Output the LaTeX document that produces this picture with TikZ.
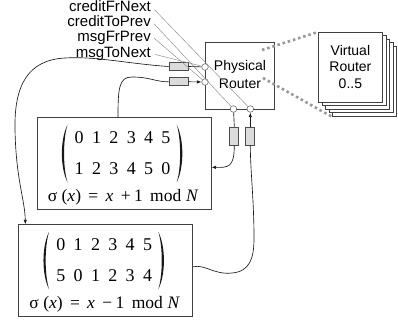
\documentclass[tikz,border=0pt]{standalone}
\usepackage{fontspec}
\setmainfont{Liberation Serif}
\newfontfamily\labelfont{Liberation Sans}
\usetikzlibrary{arrows.meta,calc}

% wide inter-word glue used in the formulas
\newcommand\fsp{\hskip 0.42em\relax}

% one box holding a permutation in two-row notation and its formula
\newcommand\permrows[4]{%
  \begin{scope}[shift={(#1.north west)}]
    \foreach \d [count=\i from 0] in {#2}
      \node[digit] (#1-a\i) at (42.5+17.35*\i,20) {\d};
    \foreach \d [count=\i from 0] in {#3}
      \node[digit] (#1-b\i) at (42.5+17.35*\i,51.7) {\d};
    \fill[black!90] (30.8,7.5) .. controls (23.3,22) and (23.3,50.5) .. (30.8,65)
                               .. controls (26.2,50.5) and (26.2,22) .. (30.8,7.5) -- cycle;
    \fill[black!90] (140,7.5) .. controls (147.5,22) and (147.5,50.5) .. (140,65)
                              .. controls (144.6,50.5) and (144.6,22) .. (140,7.5) -- cycle;
    \node[formula] (#1-f) at (86.5,84.5) {#4};
  \end{scope}}

\begin{document}
\begin{tikzpicture}[x=1pt,y=-1pt,
  frame/.style={draw=black!75, line width=0.8pt, inner sep=0pt},
  permbox/.style={frame, anchor=north west, minimum width=174pt, minimum height=92pt},
  hbuf/.style={draw=black!70, fill=black!14, line width=0.7pt, inner sep=0pt,
               minimum width=19pt, minimum height=8pt},
  vbuf/.style={hbuf, minimum width=9pt, minimum height=18pt},
  port/.style={circle, draw=black!65, fill=white, line width=0.5pt,
               minimum size=6.6pt, inner sep=0pt},
  wire/.style={draw=black!90, line width=0.65pt},
  arr/.style={-{Latex[length=4.5pt,width=3.4pt]}},
  tap/.style={draw=black!45, line width=0.45pt},
  zoomline/.style={draw=black!40, line width=2.6pt, dash pattern=on 2.6pt off 2.8pt},
  sig/.style={font=\labelfont\fontsize{15}{17}\selectfont, inner sep=0pt, anchor=base east},
  rtext/.style={font=\labelfont\fontsize{14}{16.7}\selectfont, inner sep=0pt},
  digit/.style={font=\fontsize{18}{20}\selectfont, inner sep=0pt},
  formula/.style={font=\fontsize{17.5}{20}\selectfont, inner sep=0pt, anchor=base},
  vr/.style={frame, fill=white, anchor=north west, minimum width=64pt, minimum height=70pt}]
\useasboundingbox (0,0) rectangle (398,323);

% signal names
\node[sig] (l1) at (151,11.7) {creditFrNext};
\node[sig] (l2) at (151,26.7) {creditToPrev};
\node[sig] (l3) at (151,42.0) {msgFrPrev};
\node[sig] (l4) at (151,57.4) {msgToNext};

% physical router with its four ports
\node[frame, anchor=north west, minimum width=69pt, minimum height=67pt] (pr) at (205,42) {};
\node[rtext, anchor=base] (prt1) at (240,71) {Physical};
\node[rtext, anchor=base] (prt2) at (240,88.3) {Router};

% stack of virtual routers, back to front
\foreach \k in {4,3,2,1,0}
  \node[vr] (vr\k) at (318+3.5*\k,32+3.5*\k) {};
\node[rtext, align=center] (vrt) at ($(vr0.center)+(0,-0.5)$) {Virtual\\Router\\0..5};

% zoom lines from the physical router to the stack
\coordinate (zt) at (262,50);
\coordinate (zb) at (263,78);
\draw[zoomline] (zt) -- (vr0.north west);
\draw[zoomline] (zb) -- (vr4.south west);

% ports
\node[port] (c1) at (205,67) {};
\node[port] (c2) at (205,82) {};
\node[port] (c3) at (233.5,109) {};
\node[port] (c4) at (250.3,109) {};

% buffers
\node[hbuf] (b1) at (178.5,66.5) {};
\node[hbuf] (b2) at (178.5,81.8) {};
\node[vbuf] (b3) at (234.3,136) {};
\node[vbuf] (b4) at (250.3,136) {};

% permutation boxes
\node[permbox] (m1) at (36.7,117.3) {};
\node[permbox] (m2) at (18.3,224.3) {};
\permrows{m1}{0,1,2,3,4,5}{1,2,3,4,5,0}{σ\hspace{0.25em}(\textit{x})\fsp=\fsp\textit{x}\fsp+\hspace{0.2em}1\fsp mod\hspace{0.27em}\textit{N}}
\permrows{m2}{0,1,2,3,4,5}{5,0,1,2,3,4}{σ\hspace{0.25em}(\textit{x})\fsp=\fsp\textit{x}\fsp−\hspace{0.2em}1\fsp mod\hspace{0.27em}\textit{N}}

% signal name leaders
\coordinate (l1t) at ($(l1.base east)+(3.5,-2)$);
\coordinate (l2t) at ($(l2.base east)+(3,-3)$);
\coordinate (l3t) at ($(l3.base east)+(3,-4)$);
\coordinate (l4t) at ($(l4.base east)+(4,-3)$);
\draw[tap] (l1t) -- (c4);
\draw[tap] (l2t) -- (c3);
\draw[tap] (l3t) -- (c2);
\draw[tap] (l4t) -- (c1);

% connection end points on the permutation boxes
\coordinate (m2in)  at ($(m2.north west)+(7,0)$);
\coordinate (m2out) at ($(m2.north east)+(0,42.5)$);
\coordinate (m1in)  at ($(m1.north east)+(0,50)$);
\coordinate (m1out) at ($(m1.north west)+(81.3,0)$);

% msgToNext: router -> buffer -> lower box
\draw[wire] (c1) -- (b1.east);
\draw[wire, arr] (b1.west) .. controls (130,64) and (95,56) .. (65,58)
   .. controls (28,60) and (14,85) .. (15,130)
   .. controls (16,180) and (25,200) .. (m2in);

% msgFrPrev: upper box -> buffer -> router
\draw[wire] (m1out) .. controls (118,88) and (119,77) .. (132,77)
   .. controls (150,77) and (155,81.8) .. (b2.west);
\draw[wire, arr] (b2.east) -- (c2);

% creditToPrev: router -> buffer -> upper box
\draw[wire] (c3) -- (b3.north);
\draw[wire, arr] (b3.south) .. controls (234.3,168) and (228,167.5) .. (m1in);

% creditFrNext: lower box -> buffer -> router
\draw[wire] (m2out) .. controls (205,264) and (214,275) .. (232,273)
   .. controls (250,271.5) and (254,258) .. (254,238)
   .. controls (254,200) and (250.3,170) .. (b4.south);
\draw[wire, arr] (b4.north) -- (c4);
\end{tikzpicture}
\end{document}
